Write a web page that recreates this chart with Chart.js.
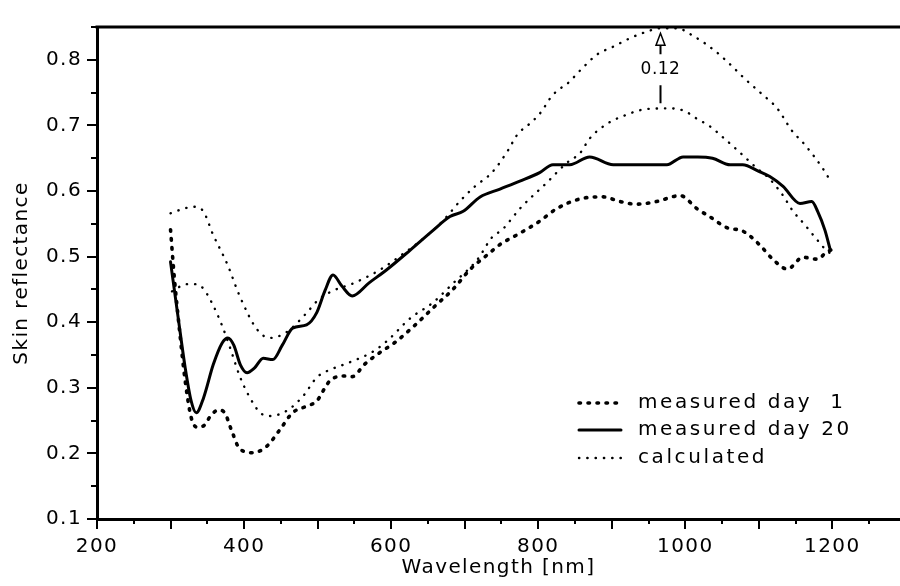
<!DOCTYPE html>
<html>
<head>
<meta charset="utf-8">
<script src="https://cdn.jsdelivr.net/npm/chart.js@4"></script>
<style>
  html, body { margin: 0; padding: 0; background: #fff; }
  #wrap { width: 900px; height: 586px; position: relative; }
</style>
</head>
<body>
<div id="wrap"><canvas id="skinChart"></canvas></div>
<script>
// wavelength [nm] / reflectance pairs, one pair of arrays per curve
const wlDay1 = [300, 305, 312, 320, 328, 336, 345, 355, 365, 373, 383, 394, 412, 431, 448, 466, 485, 499, 510, 517, 535, 547, 564, 585, 605, 632, 660, 684, 707, 730, 750, 771, 802, 825, 857, 888, 911, 934, 961, 993, 1016, 1033, 1057, 1078, 1101, 1119, 1139, 1160, 1180, 1192, 1198];
const day1 = [0.541, 0.47, 0.39, 0.31, 0.255, 0.24, 0.242, 0.258, 0.266, 0.263, 0.235, 0.207, 0.201, 0.211, 0.235, 0.262, 0.272, 0.28, 0.30, 0.311, 0.318, 0.317, 0.336, 0.354, 0.369, 0.395, 0.425, 0.45, 0.48, 0.502, 0.52, 0.533, 0.554, 0.573, 0.588, 0.591, 0.584, 0.58, 0.584, 0.593, 0.573, 0.561, 0.544, 0.539, 0.518, 0.496, 0.481, 0.499, 0.496, 0.507, 0.51];

const wlDay20 = [300, 310, 320, 328, 335, 345, 358, 370, 378, 386, 395, 404, 414, 426, 439, 452, 466, 485, 499, 510, 521, 533, 547, 570, 594, 626, 657, 680, 698, 721, 748, 775, 802, 820, 843, 870, 902, 940, 975, 997, 1017, 1037, 1061, 1078, 1100, 1115, 1133, 1156, 1172, 1180, 1190, 1197];
const day20 = [0.492, 0.41, 0.33, 0.28, 0.262, 0.285, 0.335, 0.368, 0.376, 0.365, 0.335, 0.323, 0.33, 0.345, 0.343, 0.365, 0.391, 0.396, 0.415, 0.448, 0.472, 0.455, 0.44, 0.46, 0.48, 0.51, 0.54, 0.561, 0.569, 0.591, 0.603, 0.615, 0.628, 0.64, 0.64, 0.652, 0.64, 0.64, 0.64, 0.652, 0.652, 0.65, 0.64, 0.64, 0.63, 0.622, 0.607, 0.581, 0.584, 0.569, 0.54, 0.511];

const wlCalcHigh = [300, 315, 331, 344, 358, 377, 394, 417, 435, 458, 485, 500, 519, 548, 585, 616, 649, 670, 694, 714, 737, 759, 771, 793, 805, 816, 827, 839, 859, 880, 902, 925, 948, 965, 989, 1010, 1040, 1061, 1081, 1104, 1125, 1145, 1163, 1186, 1195];
const calcHigh = [0.566, 0.572, 0.576, 0.570, 0.533, 0.489, 0.44, 0.39, 0.376, 0.385, 0.414, 0.433, 0.447, 0.459, 0.48, 0.504, 0.532, 0.554, 0.585, 0.607, 0.628, 0.662, 0.685, 0.707, 0.722, 0.741, 0.754, 0.763, 0.786, 0.808, 0.82, 0.833, 0.843, 0.848, 0.848, 0.837, 0.814, 0.793, 0.771, 0.748, 0.726, 0.692, 0.67, 0.636, 0.62];

const wlCalcLow = [302, 322, 336, 344, 356, 370, 381, 394, 405, 422, 435, 458, 480, 499, 510, 544, 575, 596, 626, 657, 684, 717, 737, 752, 775, 812, 839, 857, 870, 893, 915, 948, 979, 999, 1016, 1033, 1051, 1074, 1095, 1115, 1133, 1146, 1163, 1179, 1188, 1197];
const calcLow = [0.447, 0.458, 0.458, 0.452, 0.43, 0.395, 0.361, 0.318, 0.291, 0.262, 0.257, 0.265, 0.287, 0.316, 0.324, 0.339, 0.355, 0.373, 0.406, 0.43, 0.459, 0.495, 0.529, 0.542, 0.573, 0.613, 0.643, 0.658, 0.68, 0.702, 0.714, 0.725, 0.726, 0.722, 0.71, 0.699, 0.682, 0.659, 0.637, 0.618, 0.593, 0.57, 0.548, 0.526, 0.514, 0.505];

const xTicks = [200, 400, 600, 800, 1000, 1200];
const yTicks = [0.1, 0.2, 0.3, 0.4, 0.5, 0.6, 0.7, 0.8];

const legendLabels = ['measured day  1', 'measured day 20', 'calculated'];

// gap between the two calculated curves, marked with an arrow
const gapAt = 965;
const gapLow = 0.726;
const gapHigh = 0.848;
const gapText = '0.12';

const FONT = 'DejaVu Sans';

const pairs = (xs, ys) => xs.map((x, i) => ({ x: x, y: ys[i] }));

const styleDay1 = { borderWidth: 3.6, borderDash: [1.5, 7.5], borderCapStyle: 'round' };
const styleDay20 = { borderWidth: 3, borderDash: [], borderCapStyle: 'round' };
const styleCalc = { borderWidth: 2.4, borderDash: [0.3, 8], borderCapStyle: 'round' };

const spacingPlugin = {
    id: 'spacing',
    beforeLayout(chart) { chart.ctx.letterSpacing = '1.4px'; },
    beforeDraw(chart) { chart.ctx.letterSpacing = '1.4px'; }
};

// frame line on top plus outward ticks (long on 100 nm / 0.1, short on halves)
const frameTicks = {
    id: 'frameTicks',
    afterDraw(chart) {
        const { ctx, chartArea: a, scales: { x, y } } = chart;
        ctx.save();
        ctx.strokeStyle = '#000';
        ctx.lineWidth = 3;
        ctx.beginPath();
        ctx.moveTo(a.left - 1.5, a.top);
        ctx.lineTo(chart.width, a.top);
        ctx.stroke();

        ctx.lineWidth = 2;
        ctx.beginPath();
        for (let v = 200; v <= x.max; v += 50) {
            const px = Math.round(x.getPixelForValue(v));
            const len = v % 100 === 0 ? 9 : 4;
            ctx.moveTo(px, a.bottom + 1);
            ctx.lineTo(px, a.bottom + 1 + len);
        }
        for (let k = 2; k <= 17; k++) {
            const py = Math.round(y.getPixelForValue(k * 0.05));
            const len = k % 2 === 0 ? 9 : 5;
            ctx.moveTo(a.left - 1, py);
            ctx.lineTo(a.left - 1 - len, py);
        }
        ctx.stroke();
        ctx.restore();
    }
};

const gapArrow = {
    id: 'gapArrow',
    afterDatasetsDraw(chart) {
        const { ctx, scales: { x, y } } = chart;
        const px = Math.round(x.getPixelForValue(gapAt)) + 0.5;
        const top = y.getPixelForValue(gapHigh) + 5;
        const bot = y.getPixelForValue(gapLow) - 5;
        const mid = (top + bot) / 2 + 1;
        ctx.save();
        ctx.strokeStyle = '#000';
        ctx.fillStyle = '#fff';
        ctx.lineWidth = 1.5;
        // open arrow head
        ctx.beginPath();
        ctx.moveTo(px, top);
        ctx.lineTo(px - 4.5, top + 12);
        ctx.lineTo(px + 4.5, top + 12);
        ctx.closePath();
        ctx.fill();
        ctx.stroke();
        ctx.lineWidth = 2;
        ctx.beginPath();
        ctx.moveTo(px, top + 12);
        ctx.lineTo(px, mid - 15);
        ctx.moveTo(px, mid + 16);
        ctx.lineTo(px, bot);
        ctx.stroke();
        ctx.fillStyle = '#000';
        ctx.font = '17px "' + FONT + '"';
        ctx.letterSpacing = '0.5px';
        ctx.textAlign = 'center';
        ctx.textBaseline = 'middle';
        ctx.fillText(gapText, px, mid);
        ctx.restore();
    }
};

const sampleLegend = {
    id: 'sampleLegend',
    afterDraw(chart) {
        const { ctx } = chart;
        const styles = [styleDay1, styleDay20, styleCalc];
        const rows = [403, 430, 458];
        ctx.save();
        ctx.strokeStyle = '#000';
        ctx.fillStyle = '#000';
        ctx.font = '20px "' + FONT + '"';
        ctx.letterSpacing = '2.6px';
        ctx.textBaseline = 'middle';
        legendLabels.forEach((label, i) => {
            const s = styles[i];
            ctx.lineWidth = s.borderWidth;
            ctx.setLineDash(s.borderDash);
            ctx.lineCap = s.borderCapStyle;
            ctx.beginPath();
            ctx.moveTo(579, rows[i]);
            ctx.lineTo(621, rows[i]);
            ctx.stroke();
            ctx.setLineDash([]);
            ctx.fillText(label, 638, rows[i]);
        });
        ctx.restore();
    }
};

const lineSet = (label, data, style) => Object.assign({
    label: label,
    data: data,
    borderColor: '#000',
    backgroundColor: '#000',
    pointRadius: 0,
    fill: false,
    cubicInterpolationMode: 'monotone'
}, style);

new Chart(document.getElementById('skinChart'), {
    type: 'line',
    data: {
        datasets: [
            lineSet(legendLabels[2], pairs(wlCalcHigh, calcHigh), styleCalc),
            lineSet(legendLabels[2], pairs(wlCalcLow, calcLow), styleCalc),
            lineSet(legendLabels[0], pairs(wlDay1, day1), styleDay1),
            lineSet(legendLabels[1], pairs(wlDay20, day20), styleDay20)
        ]
    },
    options: {
        responsive: true,
        maintainAspectRatio: false,
        animation: false,
        layout: { padding: { top: 14, right: 0, left: 0, bottom: 0 } },
        plugins: { legend: { display: false }, tooltip: { enabled: false } },
        scales: {
            x: {
                type: 'linear',
                min: 200,
                max: 1292,
                afterBuildTicks: s => { s.ticks = xTicks.map(v => ({ value: v })); },
                afterFit: s => { s.height = 67; },
                grid: { display: false, drawTicks: false },
                border: { display: true, color: '#000', width: 3 },
                ticks: {
                    color: '#000', padding: 16, maxRotation: 0, autoSkip: false,
                    font: { family: FONT, size: 20 },
                    callback: v => String(v)
                },
                title: {
                    display: true, text: 'Wavelength [nm]', color: '#000',
                    font: { family: FONT, size: 20 },
                    padding: { top: 0, bottom: 6 }
                }
            },
            y: {
                min: 0.1,
                max: 0.85,
                afterBuildTicks: s => { s.ticks = yTicks.map(v => ({ value: v })); },
                afterFit: s => { s.width = 97; },
                grid: { display: false, drawTicks: false },
                border: { display: true, color: '#000', width: 3 },
                ticks: {
                    color: '#000', padding: 15, autoSkip: false,
                    font: { family: FONT, size: 20 },
                    callback: v => v.toFixed(1)
                },
                title: {
                    display: true, text: 'Skin reflectance', color: '#000',
                    font: { family: FONT, size: 20 },
                    padding: { top: 10, bottom: 0 }
                }
            }
        }
    },
    plugins: [spacingPlugin, frameTicks, gapArrow, sampleLegend]
});
</script>
</body>
</html>
